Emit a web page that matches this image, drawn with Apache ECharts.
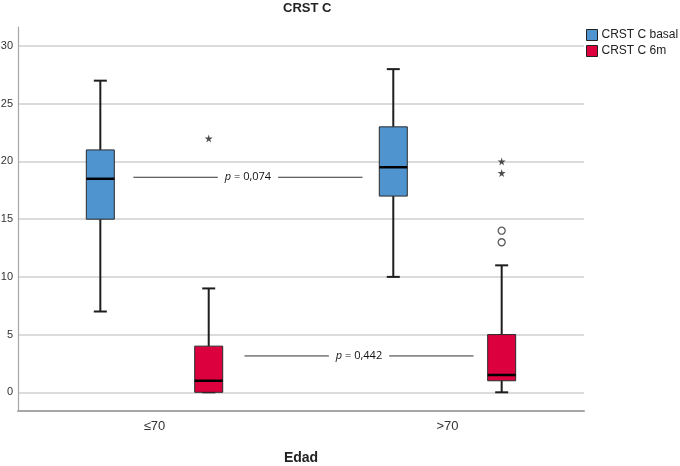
<!DOCTYPE html>
<html>
<head>
<meta charset="utf-8">
<script src="https://cdn.jsdelivr.net/npm/echarts@6/dist/echarts.min.js"></script>
<style>
html,body{margin:0;padding:0;background:#fff;}
#main{width:680px;height:466px;}
</style>
</head>
<body>
<div id="main"></div>
<script>
// ---- data ----
const categories = ['≤70', '>70'];
const seriesNames = ['CRST C basal', 'CRST C 6m'];
// [min, Q1, median, Q3, max] per category
const basalBoxes = [[7, 15, 18.5, 21, 27], [10, 17, 19.5, 23, 28]];
const sixmBoxes  = [[0, 0, 1, 4, 9], [0, 1, 1.5, 5, 11]];
// extreme values (stars) of CRST C 6m: [categoryIndex, value]
const sixmExtremes = [[0, 22], [1, 20], [1, 19]];
// outliers (circles) of CRST C 6m: [categoryIndex, value]
const sixmOutliers = [[1, 14], [1, 13]];
const yTicks = [0, 5, 10, 15, 20, 25, 30];
// p-value annotations
const pLabels = ['0,074', '0,442'];
const pYs = [18.63, 3.15];
const pFrom = [0.928, 1.307];
const pTo = [1.710, 2.089];

const colors = ['#4f94cf', '#dc003e'];
const seriesOffset = [-0.185, 0.185];

function boxData(boxes, s) {
  return boxes.map((b, i) => [i + 1 + seriesOffset[s]].concat(b));
}
function pointData(pts, s) {
  return pts.map(p => [p[0] + 1 + seriesOffset[s], p[1]]);
}

const BOX_W = 28, CAP_W = 13;
function renderBox(params, api) {
  const x = api.value(0);
  const v = [1, 2, 3, 4, 5].map(i => api.value(i));
  const p = v.map(val => api.coord([x, val]));
  const cx = p[0][0];
  const h = BOX_W / 2, c = CAP_W / 2;
  const stroke = '#1e1e1e';
  const color = api.visual('color');
  const lineStyle = {stroke: stroke, lineWidth: 2};
  return {
    type: 'group',
    children: [
      {type: 'line', shape: {x1: cx, y1: p[4][1], x2: cx, y2: p[3][1]}, style: lineStyle},
      {type: 'line', shape: {x1: cx, y1: p[1][1], x2: cx, y2: p[0][1]}, style: lineStyle},
      {type: 'line', shape: {x1: cx - c, y1: p[4][1], x2: cx + c, y2: p[4][1]}, style: lineStyle},
      {type: 'line', shape: {x1: cx - c, y1: p[0][1], x2: cx + c, y2: p[0][1]}, style: lineStyle},
      {type: 'rect', shape: {x: cx - h, y: p[3][1], width: BOX_W, height: p[1][1] - p[3][1]},
        style: {fill: color, stroke: '#2a2a2a', lineWidth: 1}},
      {type: 'line', shape: {x1: cx - h, y1: p[2][1], x2: cx + h, y2: p[2][1]},
        style: {stroke: '#000', lineWidth: 2.5}}
    ]
  };
}

function renderP(params, api) {
  const i = params.dataIndex;
  const a = api.coord([api.value(0), api.value(2)]);
  const b = api.coord([api.value(1), api.value(2)]);
  return {
    type: 'group',
    children: [
      {type: 'line', shape: {x1: a[0], y1: a[1], x2: b[0], y2: b[1]},
        style: {stroke: '#333', lineWidth: 1}},
      {type: 'text', x: (a[0] + b[0]) / 2, y: a[1],
        style: {
          text: '{i|p} = ' + pLabels[i],
          align: 'center', verticalAlign: 'middle',
          backgroundColor: '#fff', padding: [2, 7],
          fontSize: 11, fontFamily: 'Open Sans, sans-serif', fill: '#111',
          rich: {i: {fontStyle: 'italic', fontSize: 11, fontFamily: 'Open Sans, sans-serif', fill: '#111'}}
        }}
    ]
  };
}

const starPath = 'path://M50,0 L61,35 L98,35 L68,57 L79,91 L50,70 L21,91 L32,57 L2,35 L39,35 Z';

const chart = echarts.init(document.getElementById('main'));
chart.setOption({
  animation: false,
  backgroundColor: '#fff',
  title: {
    text: 'CRST C', left: 283, top: 2, padding: 0,
    textStyle: {fontSize: 13, fontWeight: 'bold', color: '#222', fontFamily: 'Liberation Sans, Arial, sans-serif'}
  },
  legend: {
    data: seriesNames, orient: 'vertical', left: 586, top: 29, padding: 0,
    itemWidth: 11, itemHeight: 11, itemGap: 4, icon: 'rect',
    itemStyle: {borderColor: '#222', borderWidth: 1},
    textStyle: {fontSize: 12, color: '#222', fontFamily: 'Liberation Sans, Arial, sans-serif', padding: [0, 0, 0, -1]}
  },
  grid: {left: 18, right: 96, top: 27, bottom: 55, containLabel: false, outerBoundsMode: 'none'},
  xAxis: {
    type: 'value', min: 0.534, max: 2.466,
    axisLine: {show: true, onZero: false, lineStyle: {color: '#a6a6a6', width: 2}},
    axisTick: {show: false, customValues: [1, 2]},
    splitLine: {show: false},
    axisLabel: {
      customValues: [1, 2], margin: 9,
      formatter: v => categories[Math.round(v) - 1],
      fontSize: 13, color: '#333', fontFamily: 'Liberation Sans, Arial, sans-serif'
    },
    name: 'Edad', nameLocation: 'middle', nameGap: 40, nameMoveOverlap: false,
    nameTextStyle: {fontSize: 14, fontWeight: 'bold', color: '#222', fontFamily: 'Liberation Sans, Arial, sans-serif'}
  },
  yAxis: {
    type: 'value', min: -1.62, max: 31.65,
    axisLine: {show: true, onZero: false, lineStyle: {color: '#a6a6a6', width: 1.2}},
    axisTick: {show: false, customValues: yTicks},
    axisLabel: {customValues: yTicks, margin: 5, fontSize: 11, color: '#333',
      fontFamily: 'Liberation Sans, Arial, sans-serif'},
    splitLine: {show: true, lineStyle: {color: '#cfcfcf', width: 1.5}}
  },
  series: [
    {name: seriesNames[0], type: 'custom', renderItem: renderBox, itemStyle: {color: colors[0]},
      encode: {x: 0, y: [1, 2, 3, 4, 5]}, data: boxData(basalBoxes, 0), z: 3},
    {name: seriesNames[1], type: 'custom', renderItem: renderBox, itemStyle: {color: colors[1]},
      encode: {x: 0, y: [1, 2, 3, 4, 5]}, data: boxData(sixmBoxes, 1), z: 3},
    {name: 'extremes', type: 'scatter', symbol: starPath, symbolSize: 8,
      itemStyle: {color: '#222'}, data: pointData(sixmExtremes, 1), z: 4},
    {name: 'outliers', type: 'scatter', symbol: 'circle', symbolSize: 7,
      itemStyle: {color: '#fff', borderColor: '#333', borderWidth: 1.3}, data: pointData(sixmOutliers, 1), z: 4},
    {name: 'p', type: 'custom', renderItem: renderP,
      encode: {x: [0, 1], y: 2},
      data: pLabels.map((l, i) => [pFrom[i], pTo[i], pYs[i]]), z: 5}
  ]
});
</script>
</body>
</html>
